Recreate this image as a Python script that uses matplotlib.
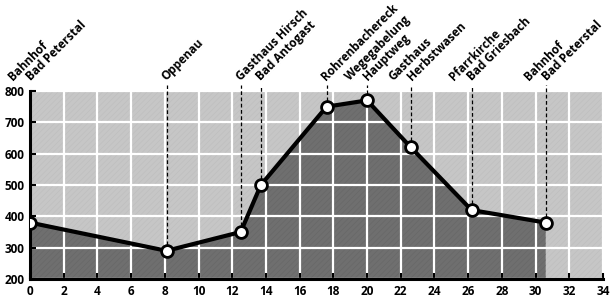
import matplotlib
matplotlib.use("Agg")
import matplotlib.pyplot as plt

# Data
km = [0.0, 8.1, 12.5, 13.7, 17.6, 20.0, 22.6, 26.2, 30.6]
elev = [380, 290, 350, 500, 750, 770, 620, 420, 380]
labels = [
    ["Bahnhof", "Bad Peterstal"],
    ["Oppenau"],
    ["Gasthaus Hirsch"],
    ["Bad Antogast"],
    ["Rohrenbachereck"],
    ["Wegegabelung", "Hauptweg"],
    ["Gasthaus", "Herbstwasen"],
    ["Pfarrkirche", "Bad Griesbach"],
    ["Bahnhof", "Bad Peterstal"],
]
xticks = list(range(0, 35, 2))
yticks = list(range(200, 801, 100))

fig = plt.figure(figsize=(6.1, 2.97), dpi=100)
ax = fig.add_axes([0.0492, 0.0606, 0.9393, 0.633])

light = "#c6c6c6"
dark = "#6f6f6f"
plt.rcParams["hatch.linewidth"] = 0.4
ax.set_facecolor(light)
ax.fill_between([0, 34], 800, 200, facecolor="none", edgecolor="#bdbdbd",
                hatch="//////", linewidth=0, zorder=0.5)
ax.fill_between(km, elev, 200, facecolor=dark, edgecolor="#666666",
                hatch="//////", zorder=1, linewidth=0)

ax.set_xlim(0, 34)
ax.set_ylim(200, 800)
ax.set_xticks(xticks)
ax.set_yticks(yticks)
ax.grid(True, color="white", linewidth=1.6, zorder=2)
ax.set_axisbelow(False)

for s in ["top", "right"]:
    ax.spines[s].set_visible(False)
for s in ["left", "bottom"]:
    ax.spines[s].set_linewidth(2.2)
    ax.spines[s].set_zorder(5)

ax.tick_params(direction="in", length=4, width=1.5, pad=4, labelsize=8.5)
for t in ax.get_xticklabels() + ax.get_yticklabels():
    t.set_fontweight("bold")
    t.set_family("Open Sans")

# dashed station lines
for x, y in zip(km[1:], elev[1:]):
    ax.plot([x, x], [y, 820], color="black", linestyle=(0, (3, 2)), linewidth=0.9,
            zorder=3, clip_on=False)

ax.plot(km, elev, color="black", linewidth=3, zorder=6, solid_joinstyle="round")
ax.plot(km, elev, linestyle="none", marker="o", markersize=8.5,
        markerfacecolor="white", markeredgecolor="black", markeredgewidth=2, zorder=7)

# labels
for x, lab in zip(km, labels):
    if len(lab) == 1:
        offs = [2]
    else:
        offs = [-15, 3]
    for line, dx in zip(lab, offs):
        ax.annotate(line, xy=(x, 800), xytext=(dx, 8), textcoords="offset pixels",
                    rotation=45, rotation_mode="anchor", ha="left", va="bottom",
                    fontsize=8.5, fontweight="bold", family="Open Sans",
                    annotation_clip=False)

fig.savefig("out.png", dpi=100)
